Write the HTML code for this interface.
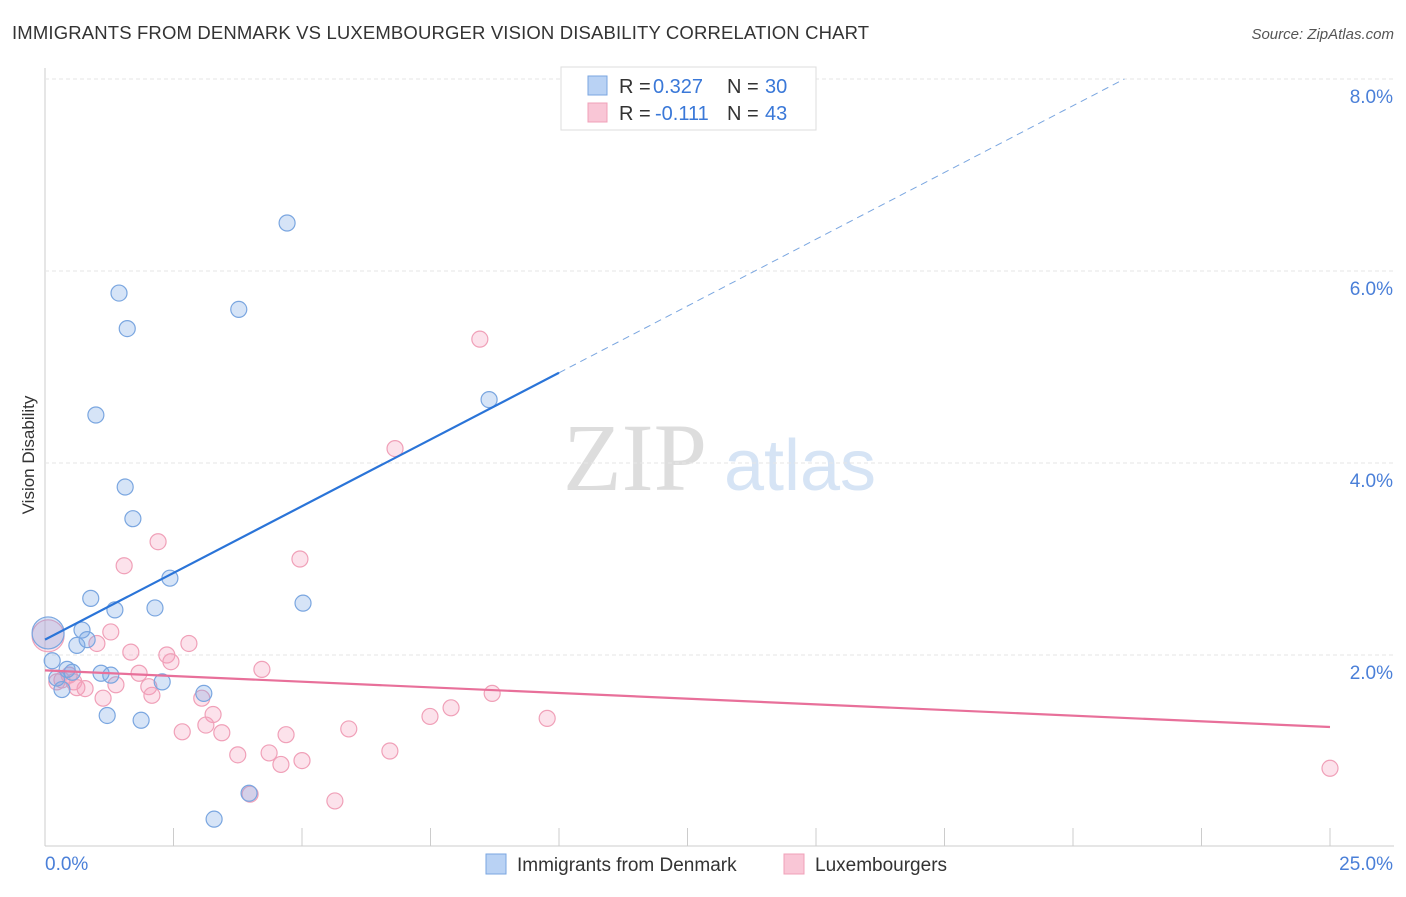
<!DOCTYPE html>
<html><head><meta charset="utf-8"><style>
body{margin:0;background:#fff;font-family:"Liberation Sans",sans-serif;}
</style></head><body>
<svg width="1406" height="892" xmlns="http://www.w3.org/2000/svg" id="svg" style="font-family:'Liberation Sans',sans-serif">
<text x="12" y="39" font-size="18.5" letter-spacing="0.15" fill="#333">IMMIGRANTS FROM DENMARK VS LUXEMBOURGER VISION DISABILITY CORRELATION CHART</text>
<text x="1394" y="39" font-size="15" fill="#555" text-anchor="end" font-style="italic">Source: ZipAtlas.com</text>
<text x="34" y="455" font-size="17" fill="#333" text-anchor="middle" transform="rotate(-90 34 455)">Vision Disability</text>
<g><text x="635" y="490" font-size="96" fill="#ddd" text-anchor="middle" font-family="'Liberation Serif',serif">ZIP</text><text x="800" y="490" font-size="72" fill="#d6e4f5" text-anchor="middle">atlas</text></g>
<g id="grid"></g><g id="marks"></g>
<g>
<rect x="561" y="67" width="255" height="63" fill="#fff" stroke="#ddd"/>
<rect x="588" y="76" width="19" height="19" fill="#b9d2f4" stroke="#7aa6e0"/>
<rect x="588" y="103" width="19" height="19" fill="#f9c6d6" stroke="#f0a0b8"/>
<text x="619" y="93" font-size="20" fill="#333">R =</text>
<text x="653" y="93" font-size="20" fill="#3a78d8">0.327</text>
<text x="727" y="93" font-size="20" fill="#333">N =</text>
<text x="765" y="93" font-size="20" fill="#3a78d8">30</text>
<text x="619" y="120" font-size="20" fill="#333">R =</text>
<text x="655" y="120" font-size="20" fill="#3a78d8">-0.111</text>
<text x="727" y="120" font-size="20" fill="#333">N =</text>
<text x="765" y="120" font-size="20" fill="#3a78d8">43</text>
</g>
<g>
<rect x="486" y="854" width="20" height="20" fill="#b9d2f4" stroke="#7aa6e0"/>
<text x="517" y="871" font-size="19" fill="#333">Immigrants from Denmark</text>
<rect x="784" y="854" width="20" height="20" fill="#f9c6d6" stroke="#f0a0b8"/>
<text x="815" y="871" font-size="19" fill="#333">Luxembourgers</text>
</g>
</svg>
<script>
const xTicks=[0,2.5,5,7.5,10,12.5,15,17.5,20,22.5,25];
const yTicks=[2,4,6,8];
const yTickLabels=["2.0%","4.0%","6.0%","8.0%"];
const blueX=[4.71,1.44,3.77,1.60,0.99,8.64,1.56,1.71,2.43,5.02,2.14,0.89,1.36,0.72,0.82,0.62,0.14,0.43,0.53,1.09,1.28,0.23,2.28,0.33,3.09,1.21,1.87,3.97,3.29,0.06];
const blueY=[6.50,5.77,5.60,5.40,4.50,4.66,3.75,3.42,2.80,2.54,2.49,2.59,2.47,2.26,2.16,2.10,1.94,1.85,1.82,1.81,1.79,1.76,1.72,1.64,1.60,1.37,1.32,0.56,0.29,2.23];
const blueBig=[29];
const pinkX=[8.46,6.81,2.20,4.96,1.54,1.28,2.80,1.01,1.67,2.37,2.45,4.22,1.83,0.47,0.56,0.23,1.38,2.02,2.08,0.78,0.62,8.70,1.13,3.05,3.27,7.90,7.49,3.13,9.77,5.91,2.67,3.44,4.69,3.75,4.36,6.71,4.59,5.00,5.64,3.99,25.0,0.06,0.33];
const pinkY=[5.29,4.15,3.18,3.00,2.93,2.24,2.12,2.12,2.03,2.00,1.93,1.85,1.81,1.79,1.72,1.72,1.69,1.67,1.58,1.65,1.66,1.60,1.55,1.55,1.38,1.45,1.36,1.27,1.34,1.23,1.20,1.19,1.17,0.96,0.98,1.00,0.86,0.90,0.48,0.55,0.82,2.20,1.74];
const pinkBig=[41];
const blueTrend=[0,2.16,10,4.94,21.0,8.0];
const pinkTrend=[0,1.84,25,1.25];
const sx=v=>45+v*51.4, sy=v=>847-v*96;
const NS="http://www.w3.org/2000/svg";
function mk(p,t,a){const e=document.createElementNS(NS,t);for(const k in a)e.setAttribute(k,a[k]);p.appendChild(e);return e;}
const g=document.getElementById('grid'),m=document.getElementById('marks');
let ax=mk(g,'line',{x1:45,y1:68,x2:45,y2:846,stroke:'#ccc'});

let bx=mk(g,'line',{x1:45,y1:846,x2:1394,y2:846,stroke:'#ccc'});

yTicks.forEach((v,i)=>{
 const l=mk(g,'line',{x1:45,y1:sy(v),x2:1394,y2:sy(v),stroke:'#e6e6e6','stroke-dasharray':'4,3'});
 
 const t=mk(g,'text',{x:1393,y:sy(v)+24,'font-size':19,fill:'#4a7fd8','text-anchor':'end'});t.textContent=yTickLabels[i];
 
});
xTicks.forEach(v=>{const l=mk(g,'line',{x1:sx(v),y1:828,x2:sx(v),y2:846,stroke:'#ccc'});
 });
[["0.0%",45,'start'],["25.0%",1393,'end']].forEach(a=>{const t=mk(g,'text',{x:a[1],y:870,'font-size':19,fill:'#4a7fd8','text-anchor':a[2]});t.textContent=a[0];
 });
function pts(X,Y,big,fill,stroke,name){X.forEach((x,i)=>{const c=mk(m,'circle',{cx:sx(x),cy:sy(Y[i]),r:big.includes(i)?16:8,fill:fill,stroke:stroke,'stroke-width':1.2});
 });}
pts(pinkX,pinkY,pinkBig,'rgba(245,160,190,0.3)','#f0a0b8','luxembourger-point');
pts(blueX,blueY,blueBig,'rgba(120,165,230,0.3)','#7aa6e0','denmark-point');
let l1=mk(m,'line',{x1:sx(blueTrend[0]),y1:sy(blueTrend[1]),x2:sx(blueTrend[2]),y2:sy(blueTrend[3]),stroke:'#2a74d8','stroke-width':2.2});

let l2=mk(m,'line',{x1:sx(blueTrend[2]),y1:sy(blueTrend[3]),x2:sx(blueTrend[4]),y2:sy(blueTrend[5]),stroke:'#7aa6e0','stroke-width':1,'stroke-dasharray':'7,5'});

let l3=mk(m,'line',{x1:sx(pinkTrend[0]),y1:sy(pinkTrend[1]),x2:sx(pinkTrend[2]),y2:sy(pinkTrend[3]),stroke:'#e8709a','stroke-width':2.2});

</script>
</body></html>
